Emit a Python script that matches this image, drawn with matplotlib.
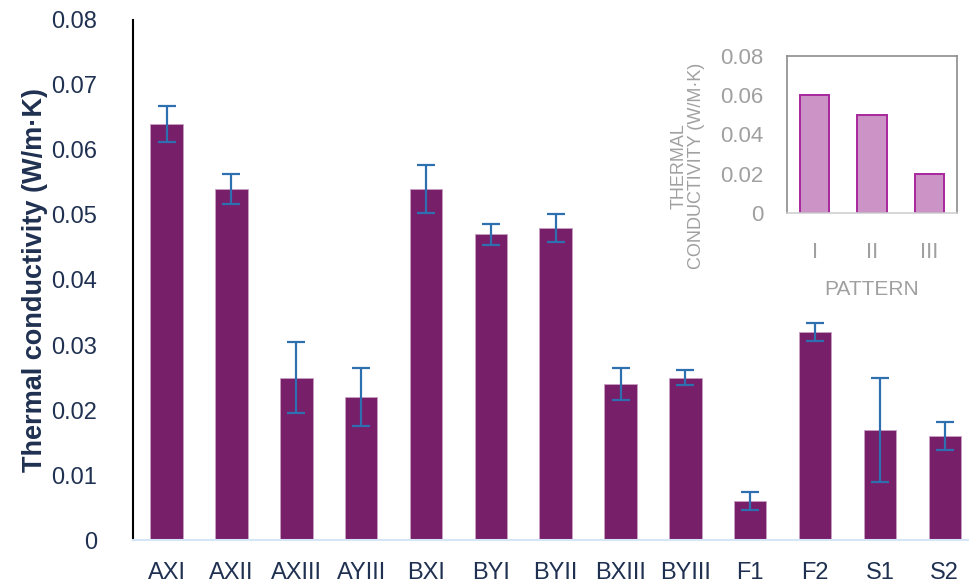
import matplotlib.pyplot as plt
import numpy as np

plt.rcParams['font.family'] = ['Liberation Sans', 'DejaVu Sans']

# main chart data
samples = ['AXI', 'AXII', 'AXIII', 'AYIII', 'BXI', 'BYI', 'BYII',
           'BXIII', 'BYIII', 'F1', 'F2', 'S1', 'S2']
k_vals = [0.064, 0.054, 0.025, 0.022, 0.054, 0.047, 0.048,
          0.024, 0.025, 0.006, 0.032, 0.017, 0.016]
k_err = [0.0028, 0.0023, 0.0054, 0.0045, 0.0037, 0.0016, 0.0022,
         0.0025, 0.0012, 0.0014, 0.0014, 0.0080, 0.0021]

# inset data
patterns = ['I', 'II', 'III']
pattern_vals = [0.06, 0.05, 0.02]

navy = '#1f3050'
grey = '#a0a0a0'

fig = plt.figure(figsize=(9.70, 5.87), dpi=100)
ax = fig.add_axes([0.137, 0.080, 0.863, 0.886])

x = np.arange(len(samples))
ax.bar(x, k_vals, width=0.5, color='#771f69', edgecolor='#c9a0c4', linewidth=0.6, zorder=2)
ax.errorbar(x, k_vals, yerr=k_err, fmt='none', ecolor='#2e6fb0',
            elinewidth=1.6, capsize=6.5, capthick=1.6, zorder=3)

ax.set_ylim(0, 0.08)
ax.set_xlim(-0.52, 12.39)
ax.set_yticks(np.arange(0, 0.081, 0.01))
ax.set_yticklabels(['0'] + ['%.2f' % v for v in np.arange(0.01, 0.081, 0.01)])
ax.set_xticks(x)
ax.set_xticklabels(samples, fontsize=17, color=navy)
ax.tick_params(axis='y', labelsize=17, labelcolor=navy, length=0, pad=26)
ax.tick_params(axis='x', length=0, pad=16)
ax.set_ylabel('Thermal conductivity (W/m·K)', fontsize=19.5, fontweight='bold', color=navy, labelpad=2)

ax.spines[['top', 'right']].set_visible(False)
ax.spines['left'].set_color('black')
ax.spines['left'].set_linewidth(1.5)
ax.spines['bottom'].set_color('#d5e6f7')
ax.spines['bottom'].set_linewidth(1.5)

# inset
ins = fig.add_axes([0.811, 0.637, 0.176, 0.268])
xi = np.arange(len(patterns))
ins.bar(xi, pattern_vals, width=0.51, color='#cc94c6', edgecolor='#a8279c', linewidth=1.4)
ins.set_ylim(0, 0.08)
ins.set_xlim(-0.49, 2.49)
ins.set_yticks([0, 0.02, 0.04, 0.06, 0.08])
ins.set_yticklabels(['0', '0.02', '0.04', '0.06', '0.08'])
ins.set_xticks(xi)
ins.set_xticklabels(patterns)
ins.tick_params(axis='both', labelsize=16, labelcolor=grey, length=0)
ins.tick_params(axis='y', pad=17)
ins.tick_params(axis='x', pad=21)
ins.set_xlabel('PATTERN', fontsize=15, color=grey, labelpad=12)
ins.set_ylabel('THERMAL\nCONDUCTIVITY (W/M·K)', fontsize=13, color=grey, linespacing=1.0)
ins.yaxis.set_label_coords(-0.48, 0.30)
for s in ins.spines.values():
    s.set_color('#8c8c8c')
    s.set_linewidth(1.2)
ins.spines['bottom'].set_color('#d0d0d0')

fig.savefig('out.png', dpi=100)
